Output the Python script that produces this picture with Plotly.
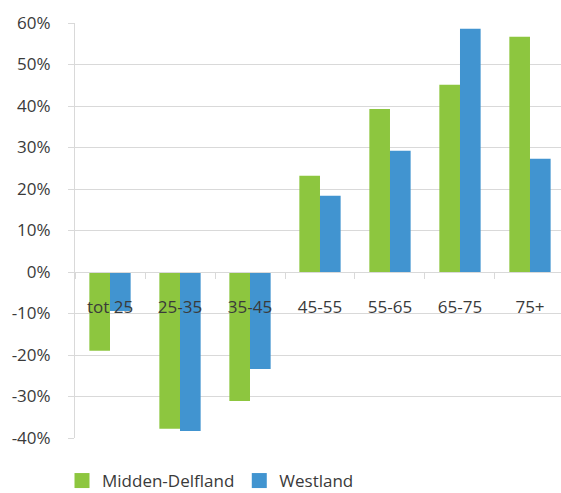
import plotly.graph_objects as go

# Age groups and relative change per municipality
categories = ["tot 25", "25-35", "35-45", "45-55", "55-65", "65-75", "75+"]
midden_delfland = [-0.190, -0.378, -0.311, 0.232, 0.393, 0.451, 0.567]
westland = [-0.094, -0.383, -0.234, 0.184, 0.292, 0.586, 0.273]
series_names = ["Midden-Delfland", "Westland"]
y_ticks = [-0.4, -0.3, -0.2, -0.1, 0.0, 0.1, 0.2, 0.3, 0.4, 0.5, 0.6]
y_tick_labels = ["-40%", "-30%", "-20%", "-10%", "0%", "10%", "20%", "30%", "40%", "50%", "60%"]

GREEN = "#8dc63f"
BLUE = "#4194d0"
GRID = "#d9d9d9"
TEXT = "#3a3a3a"
FONT = "Open Sans"

fig = go.Figure()
for name, vals, col in zip(series_names, [midden_delfland, westland], [GREEN, BLUE]):
    fig.add_trace(go.Bar(name=name, x=categories, y=vals, showlegend=False,
                         marker=dict(color=col, line=dict(width=0))))
# legend keys: larger square swatches
for name, col in zip(series_names, [GREEN, BLUE]):
    fig.add_trace(go.Scatter(name=name, x=[None], y=[None], mode="markers",
                             marker=dict(symbol="square", size=15, color=col),
                             showlegend=True, hoverinfo="skip"))

W, H = 561, 493
ml, mr, mt, mb = 75, 0, 23, 55

fig.update_layout(
    width=W, height=H,
    margin=dict(l=ml, r=mr, t=mt, b=mb, pad=0, autoexpand=False),
    paper_bgcolor="white", plot_bgcolor="white",
    barmode="group", bargap=0.41, bargroupgap=0,
    font=dict(family=FONT, size=17, color=TEXT),
    showlegend=True,
    legend=dict(orientation="h", xref="container", yref="container",
                x=62 / W, xanchor="left", y=12 / H, yanchor="middle",
                font=dict(size=17, color=TEXT), traceorder="normal",
                itemwidth=30, bgcolor="rgba(0,0,0,0)"),
    xaxis=dict(
        type="category", range=[-0.5, 6.443],
        anchor="free", position=0.4,
        showline=True, linecolor=GRID, linewidth=1,
        ticks="outside", tickson="boundaries", ticklen=6, tickcolor=GRID,
        ticklabelstandoff=20,
        tickfont=dict(size=17, color=TEXT),
        showgrid=False, zeroline=False, fixedrange=True,
    ),
    yaxis=dict(
        range=[-0.4, 0.6], tickvals=y_ticks, ticktext=y_tick_labels,
        showgrid=True, gridcolor=GRID, gridwidth=1,
        zeroline=False,
        showline=True, linecolor=GRID, linewidth=1,
        ticks="outside", ticklen=6, tickcolor=GRID,
        ticklabelstandoff=14,
        tickfont=dict(size=17, color=TEXT),
    ),
)

fig.write_html("out.html")
